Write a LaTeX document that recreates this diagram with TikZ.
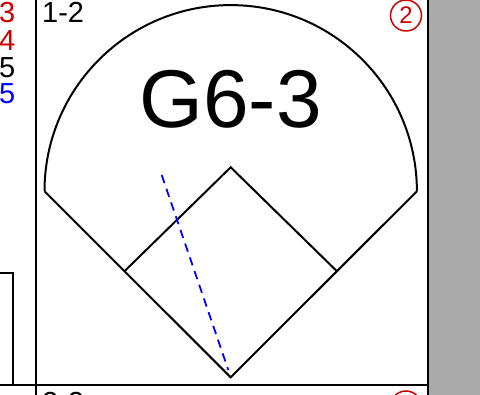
\documentclass[tikz,border=0pt]{standalone}
\usepackage{fontspec}
\setmainfont{Liberation Sans}
\definecolor{scred}{RGB}{204,0,0}
\definecolor{scblue}{RGB}{0,0,255}
\definecolor{scgray}{RGB}{170,170,170}
\begin{document}
\begin{tikzpicture}[x=1pt,y=-1pt,
  cellline/.style={line width=1.9pt, black},
  fieldline/.style={line width=2pt, black, line join=miter},
  playline/.style={line width=1.8pt, scblue, dash pattern=on 8.5pt off 6pt},
  small/.style={inner sep=0pt, font=\fontsize{29}{29}\selectfont},
  circnum/.style={circle, draw=scred, line width=1.5pt, minimum size=31pt, inner sep=0pt, text=scred, font=\fontsize{24}{24}\selectfont}]
\useasboundingbox (0,0) rectangle (480,395);
\clip (0,0) rectangle (480,395);
% gray margin
\fill[scgray] (429,-5) rectangle (485,400);
% grid lines
\draw[cellline] (36,-5) -- (36,400);
\draw[cellline] (-5,385) -- (428,385);
\draw[line width=2.4pt] (428,-5) -- (428,400);
\draw[cellline] (-5,273) -- (13,273) -- (13,385);
% left column numbers
\node[small, text=scred, anchor=base east] (n1) at (15.5,23) {3};
\node[small, text=scred, anchor=base east] (n2) at (15.5,50.3) {4};
\node[small, text=black, anchor=base east] (n3) at (15.5,77.6) {5};
\node[small, text=scblue, anchor=base east] (n4) at (15.5,103.8) {5};
% cell labels
\node[small, anchor=base west] (lab) at (42,22.8) {1-2};
\node[small, anchor=base west] (lab2) at (42,413) {2-2};
\node[circnum] (c1) at (406,15.5) {2};
\node[circnum] (c2) at (406,406.5) {2};
% field
\coordinate (home) at (230.7,377.3);
\coordinate (first) at (336.7,271);
\coordinate (second) at (230.7,167.3);
\coordinate (third) at (124.7,271);
\coordinate (lf) at (44.5,191.3);
\coordinate (rf) at (416.9,191.3);
\draw[fieldline] (lf) -- (home) -- (rf);
\draw[fieldline] (rf) arc[start angle=0, end angle=-180, radius=186.2];
\draw[fieldline] (third) -- (second) -- (first);
% result text
\node[inner sep=0pt, anchor=base, font=\fontsize{82}{82}\selectfont] (res) at (230.5,127.5) {G6-3};
% play line
\coordinate (pstart) at (161.7,175);
\coordinate (pend) at (228.3,370);
\draw[playline] (pstart) -- (pend);
\end{tikzpicture}
\end{document}
